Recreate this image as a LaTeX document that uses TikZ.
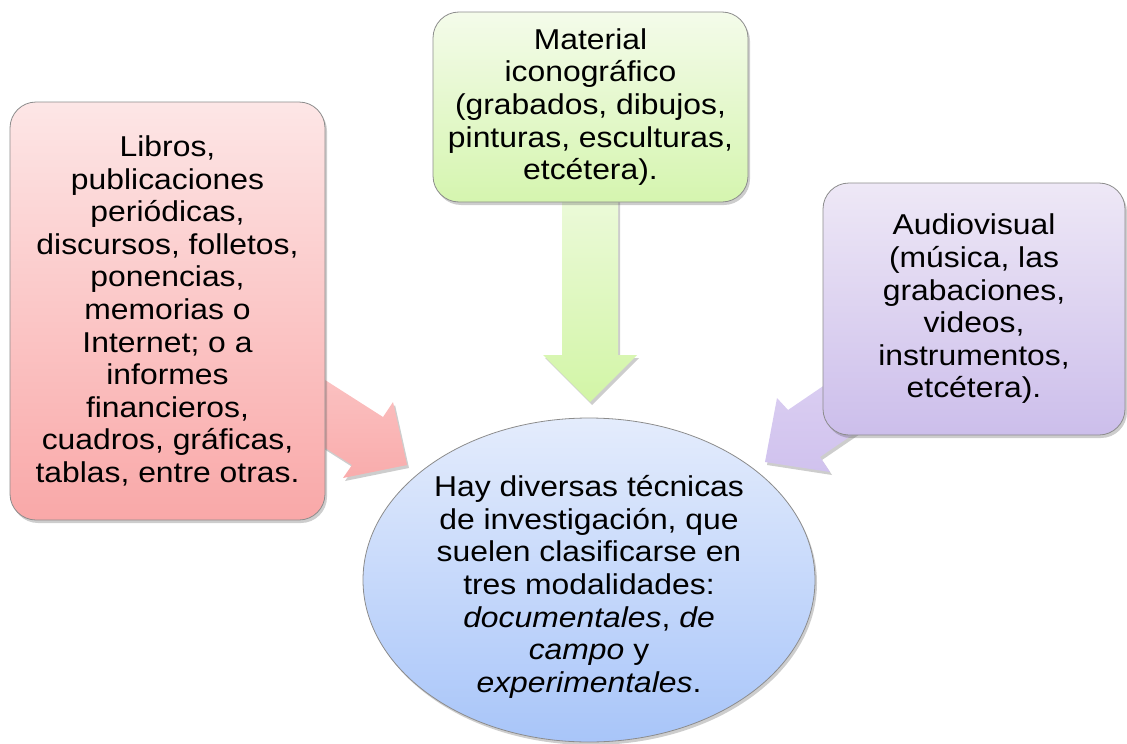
\documentclass[tikz,border=0pt]{standalone}
\usepackage{fontspec}
\setmainfont{Liberation Sans}[FakeStretch=1.11]
\usetikzlibrary{shadows,shapes.geometric}
\definecolor{redtop}{RGB}{253,230,230}
\definecolor{redbot}{RGB}{249,168,168}
\definecolor{redarrA}{RGB}{251,196,196}
\definecolor{redarrB}{RGB}{249,172,172}
\definecolor{greentop}{RGB}{244,251,234}
\definecolor{greenbot}{RGB}{213,245,175}
\definecolor{greenarrA}{RGB}{236,250,218}
\definecolor{greenarrB}{RGB}{210,245,166}
\definecolor{purptop}{RGB}{238,232,246}
\definecolor{purpbot}{RGB}{204,190,235}
\definecolor{purparrA}{RGB}{220,208,242}
\definecolor{purparrB}{RGB}{208,194,238}
\definecolor{elltop}{RGB}{228,236,252}
\definecolor{ellbot}{RGB}{168,197,249}
\begin{document}
\begin{tikzpicture}[x=1pt,y=-1pt,
  txt/.style={align=center, inner sep=0pt, font=\fontsize{28.7}{32.6}\selectfont},
  shad/.style={drop shadow={shadow xshift=2pt, shadow yshift=-3pt, opacity=0.28, fill=black!70}},
  box/.style={txt, shad, rounded corners=26pt, draw=black!45, line width=0.8pt},
  blockarrow/.style={shad, draw=none}
]
\useasboundingbox (0,0) rectangle (1127,744);

% block arrows (drawn first, under the boxes)
\path[blockarrow, top color=redarrA, bottom color=redarrB]
  (300,364) -- (383,417) -- (393,402) coordinate (ra) -- (407,465) coordinate (redtip) -- (343,478) -- (352,465) -- (300,432) -- cycle;
\path[blockarrow, top color=greenarrA, bottom color=greenarrB]
  (562,195) -- (618,195) -- (618,355) -- (637,355) -- (590,402) coordinate (greentip) -- (543,355) -- (562,355) -- cycle;
\path[blockarrow, top color=purparrA, bottom color=purparrB]
  (765,462) coordinate (purptip) -- (777,398) -- (788,410) -- (860,361) -- (880,416) -- (820,457) -- (830,472) -- cycle;

% boxes
\node[box, top color=redtop, bottom color=redbot, minimum width=315pt, minimum height=418pt] (libros) at (167.5,311)
  {Libros,\\ publicaciones\\ periódicas,\\ discursos, folletos,\\ ponencias,\\ memorias o\\ Internet; o a\\ informes\\ financieros,\\ cuadros, gráficas,\\ tablas, entre otras.};
\node[box, top color=greentop, bottom color=greenbot, minimum width=315pt, minimum height=190pt] (icono) at (590.5,107)
  {Material\\ iconográfico\\ (grabados, dibujos,\\ pinturas, esculturas,\\ etcétera).};
\node[box, top color=purptop, bottom color=purpbot, minimum width=302pt, minimum height=252pt] (audio) at (974,309)
  {Audiovisual\\ (música, las\\ grabaciones,\\ videos,\\ instrumentos,\\ etcétera).};

% central ellipse
\node[ellipse, shad, draw=black!45, line width=0.8pt, top color=elltop, bottom color=ellbot, minimum width=452pt, minimum height=324pt, inner sep=0pt] (centro) at (589,580) {};
\node[txt] (centrotxt) at (589,587)
  {Hay diversas técnicas\\ de investigación, que\\ suelen clasificarse en\\ tres modalidades:\\ \textit{documentales}, \textit{de}\\ \textit{campo} y\\ \textit{experimentales}.};
\end{tikzpicture}
\end{document}
